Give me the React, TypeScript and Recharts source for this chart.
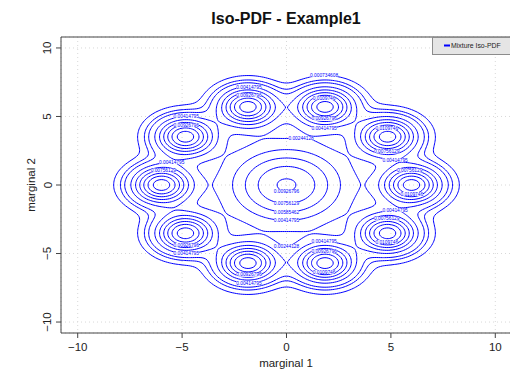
import {
  ComposedChart,
  Line,
  Scatter,
  XAxis,
  YAxis,
  CartesianGrid,
  ReferenceArea,
} from 'recharts';

// mixture components (centres / spreads)
const compX = [0, 6, 4.85, 1.85, -1.85, -4.85, -6, -4.85, -1.85, 1.85, 4.85];
const compY = [0, 0, 3.53, 5.71, 5.71, 3.53, 0, -3.53, -5.71, -5.71, -3.53];
const compSigma = [2, 0.94, 0.94, 0.94, 0.94, 0.94, 0.94, 0.94, 0.94, 0.94, 0.94];
const compWeight = [0.239, 0.0761, 0.0761, 0.0761, 0.0761, 0.0761, 0.0761, 0.0761, 0.0761, 0.0761, 0.0761];

// iso-pdf levels
const levels = [
  0.000734608, 0.00158794, 0.00244128, 0.00414795, 0.00585462, 0.00756129,
  0.00926796, 0.0109746, 0.0126813,
];

const xTicks = [-10, -5, 0, 5, 10];
const yTicks = [-10, -5, 0, 5, 10];
const LIM = 10.8;

const FONT = 'Liberation Sans, Arial, Helvetica, sans-serif';
const BLUE = '#0000ff';

type Pt = { x: number; y: number };

function pdf(x: number, y: number) {
  let s = 0;
  for (let i = 0; i < compX.length; i++) {
    const dx = x - compX[i];
    const dy = y - compY[i];
    const v = compSigma[i] * compSigma[i];
    s += (compWeight[i] / (2 * Math.PI * v)) * Math.exp(-(dx * dx + dy * dy) / (2 * v));
  }
  return s;
}

const STEP = 0.1;
const N = Math.round((2 * LIM) / STEP) + 1;
const gx = (i: number) => -LIM + i * STEP;
const grid: number[][] = [];
for (let i = 0; i < N; i++) {
  const col: number[] = [];
  for (let j = 0; j < N; j++) col.push(pdf(gx(i), gx(j)));
  grid.push(col);
}

// marching squares + joining of segments into paths
function traceLevel(level: number): Pt[][] {
  const pts = new Map<string, Pt>();
  const adj = new Map<string, string[]>();
  const ep = (key: string, x0: number, y0: number, v0: number, x1: number, y1: number, v1: number) => {
    if (!pts.has(key)) {
      const t = (level - v0) / (v1 - v0);
      pts.set(key, { x: x0 + t * (x1 - x0), y: y0 + t * (y1 - y0) });
    }
    return key;
  };
  const link = (a: string, b: string) => {
    if (!adj.has(a)) adj.set(a, []);
    if (!adj.has(b)) adj.set(b, []);
    adj.get(a)!.push(b);
    adj.get(b)!.push(a);
  };
  for (let i = 0; i < N - 1; i++) {
    for (let j = 0; j < N - 1; j++) {
      const v00 = grid[i][j];
      const v10 = grid[i + 1][j];
      const v11 = grid[i + 1][j + 1];
      const v01 = grid[i][j + 1];
      const code =
        (v00 > level ? 1 : 0) | (v10 > level ? 2 : 0) | (v11 > level ? 4 : 0) | (v01 > level ? 8 : 0);
      if (code === 0 || code === 15) continue;
      const x0 = gx(i), x1 = gx(i + 1), y0 = gx(j), y1 = gx(j + 1);
      const B = () => ep(`h${i},${j}`, x0, y0, v00, x1, y0, v10);
      const T = () => ep(`h${i},${j + 1}`, x0, y1, v01, x1, y1, v11);
      const L = () => ep(`v${i},${j}`, x0, y0, v00, x0, y1, v01);
      const R = () => ep(`v${i + 1},${j}`, x1, y0, v10, x1, y1, v11);
      const mid = (v00 + v10 + v11 + v01) / 4;
      switch (code) {
        case 1: case 14: link(L(), B()); break;
        case 2: case 13: link(B(), R()); break;
        case 3: case 12: link(L(), R()); break;
        case 4: case 11: link(T(), R()); break;
        case 6: case 9: link(B(), T()); break;
        case 7: case 8: link(L(), T()); break;
        case 5:
          if (mid > level) { link(L(), T()); link(B(), R()); }
          else { link(L(), B()); link(T(), R()); }
          break;
        case 10:
          if (mid > level) { link(L(), B()); link(T(), R()); }
          else { link(B(), R()); link(L(), T()); }
          break;
      }
    }
  }
  const used = new Set<string>();
  const walk = (start: string) => {
    const path: Pt[] = [pts.get(start)!];
    used.add(start);
    let prev = '';
    let cur = start;
    for (;;) {
      const nxt = adj.get(cur)!.find((k) => k !== prev && !used.has(k));
      if (!nxt) break;
      path.push(pts.get(nxt)!);
      used.add(nxt);
      prev = cur;
      cur = nxt;
    }
    return path;
  };
  const paths: Pt[][] = [];
  for (const [k, nb] of adj) if (nb.length === 1 && !used.has(k)) paths.push(walk(k));
  for (const [k] of adj) {
    if (!used.has(k)) {
      const p = walk(k);
      p.push(p[0]);
      paths.push(p);
    }
  }
  return paths;
}

// pixel size of the plot box, used for label spacing only
const PW = 451;
const PH = 296;
const toPx = (p: Pt) => ({ x: ((p.x + LIM) / (2 * LIM)) * PW, y: ((LIM - p.y) / (2 * LIM)) * PH });

const contours: { level: number; li: number; path: Pt[] }[] = [];
levels.forEach((lv, li) => traceLevel(lv).forEach((path) => contours.push({ level: lv, li, path })));

const placed: { x0: number; x1: number; y0: number; y1: number }[] = [];
const labelPts: { x: number; y: number; label: string }[] = [];
contours.forEach((c, ci) => {
  let len = 0;
  for (let k = 1; k < c.path.length; k++) {
    const a = toPx(c.path[k - 1]);
    const b = toPx(c.path[k]);
    len += Math.hypot(a.x - b.x, a.y - b.y);
  }
  if (len < 45) return;
  const top = (c.li + ci) % 2 === 0;
  let best = c.path[0];
  c.path.forEach((p) => {
    if (top ? p.y > best.y : p.y < best.y) best = p;
  });
  const label = String(c.level);
  const q = toPx(best);
  const w = label.length * 2.5;
  const box = { x0: q.x - w / 2 - 1, x1: q.x + w / 2 + 1, y0: q.y - 4, y1: q.y + 4 };
  if (placed.some((b) => b.x0 < box.x1 && box.x0 < b.x1 && b.y0 < box.y1 && box.y0 < b.y1)) return;
  placed.push(box);
  labelPts.push({ x: best.x, y: best.y, label });
});

const fmt = (v: number) => (v < 0 ? `\u2212${Math.abs(v)}` : `${v}`);

const LevelLabel = (props: any) => {
  const { cx, cy, payload } = props;
  const w = payload.label.length * 2.5;
  return (
    <g>
      <rect x={cx - w / 2} y={cy - 2} width={w} height={4} fill="#ffffff" />
      <text x={cx} y={cy + 1.7} fontSize={4.8} fill={BLUE} textAnchor="middle" fontFamily={FONT}>
        {payload.label}
      </text>
    </g>
  );
};

export default function App() {
  return (
    <div style={{ position: 'absolute', left: 0, top: 0, width: 510, height: 370, overflow: 'hidden', background: '#fff' }}>
      <ComposedChart width={512} height={370} margin={{ top: 37, right: 0, bottom: 0, left: 0 }}>
        <CartesianGrid stroke="#d8d8d8" strokeDasharray="1 3" />
        <XAxis
          type="number"
          dataKey="x"
          domain={[-LIM, LIM]}
          ticks={xTicks}
          allowDataOverflow
          height={37}
          axisLine={false}
          tickSize={5}
          tickLine={{ stroke: '#444' }}
          tick={(p: any) => (
            <text x={p.x} y={351} textAnchor="middle" fontSize={11.5} fill="#222" fontFamily={FONT}>
              {fmt(p.payload.value)}
            </text>
          )}
          label={{
            content: () => (
              <text x={286} y={367} textAnchor="middle" fontSize={11.5} fill="#222" fontFamily={FONT}>
                marginal 1
              </text>
            ),
          }}
        />
        <YAxis
          type="number"
          dataKey="y"
          domain={[-LIM, LIM]}
          ticks={yTicks}
          allowDataOverflow
          width={61}
          axisLine={false}
          tickSize={5}
          tickLine={{ stroke: '#444' }}
          tick={(p: any) => (
            <text
              x={51.5}
              y={p.y}
              transform={`rotate(-90, 51.5, ${p.y})`}
              textAnchor="middle"
              fontSize={11.5}
              fill="#222"
              fontFamily={FONT}
            >
              {fmt(p.payload.value)}
            </text>
          )}
          label={{
            content: () => (
              <text
                x={35}
                y={185}
                transform="rotate(-90, 35, 185)"
                textAnchor="middle"
                fontSize={11.5}
                fill="#222"
                fontFamily={FONT}
              >
                marginal 2
              </text>
            ),
          }}
        />
        <ReferenceArea x1={-LIM} x2={LIM} y1={-LIM} y2={LIM} fill="none" stroke="#444" strokeWidth={1} />
        {contours.map((c, i) => (
          <Line
            key={i}
            data={c.path}
            dataKey="y"
            type="linear"
            stroke={BLUE}
            strokeWidth={1}
            dot={false}
            activeDot={false}
            legendType="none"
            isAnimationActive={false}
          />
        ))}
        <Scatter data={labelPts} dataKey="y" shape={LevelLabel} isAnimationActive={false} legendType="none" />
      </ComposedChart>
      <svg width={510} height={370} style={{ position: 'absolute', left: 0, top: 0, pointerEvents: 'none' }}>
        <text x={286} y={24} textAnchor="middle" fontSize={16} fontWeight="bold" fill="#111" fontFamily={FONT}>
          Iso-PDF - Example1
        </text>
        <rect x={432.5} y={37.5} width={80} height={17} fill="#e5e5e5" stroke="#8c8c8c" />
        <line x1={444} x2={450} y1={45.5} y2={45.5} stroke={BLUE} strokeWidth={2} />
        <text x={451} y={48} fontSize={6.9} fill="#222" fontFamily={FONT}>
          Mixture Iso-PDF
        </text>
      </svg>
    </div>
  );
}
